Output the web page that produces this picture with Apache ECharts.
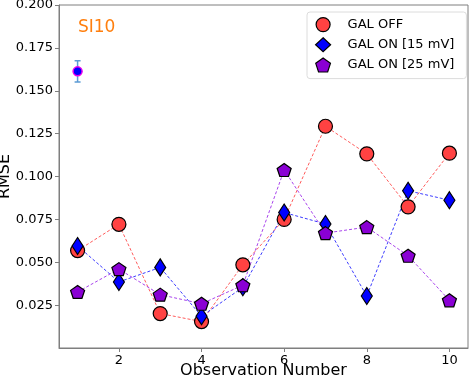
<!DOCTYPE html>
<html>
<head>
<meta charset="utf-8">
<script src="https://cdn.jsdelivr.net/npm/echarts@6/dist/echarts.min.js"></script>
<style>
  html, body { margin: 0; padding: 0; background: #fff; }
  #chart { width: 471px; height: 381px; }
</style>
</head>
<body>
<div id="chart"></div>
<script>
// observation numbers
const obs = [1, 2, 3, 4, 5, 6, 7, 8, 9, 10]
// RMSE per observation
const galOff = [0.0568, 0.0721, 0.0201, 0.0154, 0.0485, 0.0750, 0.1293, 0.1132, 0.0823, 0.1136]
const galOn15 = [0.0595, 0.0385, 0.0470, 0.0185, 0.0354, 0.0790, 0.0723, 0.0303, 0.0917, 0.0862]
const galOn25 = [0.0327, 0.0460, 0.0311, 0.0258, 0.0366, 0.1038, 0.0670, 0.0705, 0.0538, 0.0278]
// reference point with error bar: [x, y, err]
const refPoint = [1, 0.1613, 0.0062]
const xTicks = [2, 4, 6, 8, 10]
const yTicks = [0.025, 0.05, 0.075, 0.1, 0.125, 0.15, 0.175, 0.2]

const font = 'DejaVu Sans'
const pentagon = 'path://M0,-1 L0.951,-0.309 L0.588,0.809 L-0.588,0.809 L-0.951,-0.309 Z'

const pairs = ys => obs.map((x, i) => [x, ys[i]])

const lineSeries = (name, ys, symbol, size, fill, lineColor) => ({
  name,
  type: 'line',
  data: pairs(ys),
  symbol,
  symbolSize: size,
  itemStyle: { color: fill, borderColor: '#000', borderWidth: 1.2 },
  lineStyle: { color: lineColor, width: 1, type: [3, 2] },
  emphasis: { disabled: true },
  animation: false
})

const chart = echarts.init(document.getElementById('chart'))
chart.setOption({
  animation: false,
  textStyle: { fontFamily: font },
  grid: { left: 59, right: 3, top: 5, bottom: 33, outerBoundsMode: 'none', containLabel: false,
    show: true, borderColor: '#7f7f7f', borderWidth: 1 },
  title: {
    text: 'SI10', left: 73, top: 14,
    textStyle: { color: '#ff7f0e', fontSize: 17, fontWeight: 'normal', fontFamily: font }
  },
  legend: {
    orient: 'vertical', left: 307, top: 12,
    backgroundColor: '#fff', borderColor: '#dcdcdc', borderWidth: 1, borderRadius: 3,
    padding: [5, 12, 6, 8], itemGap: 5, itemWidth: 15, itemHeight: 14,
    itemStyle: { borderColor: '#000', borderWidth: 1.2 },
    textStyle: { fontSize: 13, color: '#000', fontFamily: font, padding: [0, 0, 0, 12] },
    data: [
      { name: 'GAL OFF', icon: 'circle' },
      { name: 'GAL ON [15 mV]', icon: 'diamond' },
      { name: 'GAL ON [25 mV]', icon: pentagon }
    ]
  },
  xAxis: {
    type: 'value', min: 0.55, max: 10.45,
    name: 'Observation Number', nameLocation: 'middle', nameGap: 15, nameMoveOverlap: false,
    nameTextStyle: { fontSize: 16, color: '#000', fontFamily: font },
    axisLine: { show: true, lineStyle: { color: '#7f7f7f' } },
    axisTick: { show: true, customValues: xTicks, length: 4, lineStyle: { color: '#7f7f7f' } },
    axisLabel: { customValues: xTicks, fontSize: 13, color: '#000', margin: 6, fontFamily: font },
    splitLine: { show: false }
  },
  yAxis: {
    type: 'value', min: 0, max: 0.2,
    name: 'RMSE', nameLocation: 'middle', nameGap: 46, nameRotate: 90, nameMoveOverlap: false,
    nameTextStyle: { fontSize: 16, color: '#000', fontFamily: font },
    axisLine: { show: true, lineStyle: { color: '#7f7f7f' } },
    axisTick: { show: true, customValues: yTicks, length: 4, lineStyle: { color: '#7f7f7f' } },
    axisLabel: { customValues: yTicks, fontSize: 13, color: '#000', margin: 6, fontFamily: font,
      formatter: v => v.toFixed(3) },
    splitLine: { show: false }
  },
  series: [
    lineSeries('GAL OFF', galOff, 'circle', 14, '#ff4242', '#ff5c5c'),
    lineSeries('GAL ON [15 mV]', galOn15, 'diamond', [11, 17], '#0000ff', '#3c3cff'),
    lineSeries('GAL ON [25 mV]', galOn25, pentagon, [14, 13], '#8a00d4', '#a844ec'),
    {
      type: 'custom',
      data: [refPoint],
      animation: false,
      renderItem: (params, api) => {
        const x = api.value(0), y = api.value(1), e = api.value(2)
        const top = api.coord([x, y + e])
        const bot = api.coord([x, y - e])
        const mid = api.coord([x, y])
        const bar = { stroke: '#5b9bd5', lineWidth: 1.5 }
        return {
          type: 'group',
          children: [
            { type: 'line', shape: { x1: top[0], y1: top[1], x2: bot[0], y2: bot[1] }, style: bar },
            { type: 'line', shape: { x1: top[0] - 3, y1: top[1], x2: top[0] + 3, y2: top[1] }, style: bar },
            { type: 'line', shape: { x1: bot[0] - 3, y1: bot[1], x2: bot[0] + 3, y2: bot[1] }, style: bar },
            { type: 'circle', shape: { cx: mid[0], cy: mid[1], r: 4.5 },
              style: { fill: '#0000ff', stroke: '#ee00ee', lineWidth: 1.5 } }
          ]
        }
      }
    }
  ]
})
</script>
</body>
</html>
